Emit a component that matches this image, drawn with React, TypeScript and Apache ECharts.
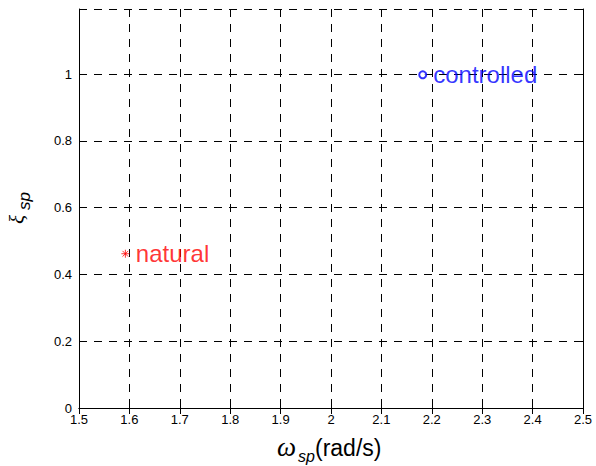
import React, { useEffect, useRef } from "react";
import * as echarts from "echarts";

const xTicks = [1.5, 1.6, 1.7, 1.8, 1.9, 2, 2.1, 2.2, 2.3, 2.4, 2.5];
const yTicks = [0, 0.2, 0.4, 0.6, 0.8, 1];
const naturalPoint = [1.592, 0.462];
const controlledPoint = [2.182, 0.998];
const pointNames = ["natural", "controlled"];

const asterisk =
  "path://M0,-5L0,5M-5,0L5,0M-3.6,-3.6L3.6,3.6M-3.6,3.6L3.6,-3.6";

const SANS = "Liberation Sans, Arial, sans-serif";
const SERIF = "Liberation Serif, Times New Roman, serif";

export default function App() {
  const ref = useRef<HTMLDivElement>(null);
  useEffect(() => {
    document.body.style.margin = "0";
    if (!ref.current) return;
    const chart = echarts.init(ref.current, undefined, { renderer: "svg" });
    const axisFont = { fontFamily: SANS, fontSize: 13, color: "#000" };
    const dashed = { show: true, lineStyle: { color: "#000", type: [8, 7], width: 1 } };
    const xFmt = (v: number) => {
      const t = xTicks.find((x) => Math.abs(x - v) < 1e-6);
      return t === undefined ? "" : String(t);
    };
    const yFmt = (v: number) => {
      const t = yTicks.find((y) => Math.abs(y - v) < 1e-6);
      return t === undefined ? "" : String(t);
    };
    const tick = { show: true, inside: true, length: 6, lineStyle: { color: "#000" } };
    const line = { show: true, lineStyle: { color: "#000", width: 1 } };
    chart.setOption({
      animation: false,
      backgroundColor: "#fff",
      grid: {
        left: 79,
        top: 9,
        right: 13,
        bottom: 58,
        show: false,
      },
      xAxis: [
        {
          type: "value",
          min: xTicks[0],
          max: xTicks[xTicks.length - 1],
          interval: 0.1,
          axisLine: line,
          axisTick: tick,
          axisLabel: { ...axisFont, margin: 5, formatter: xFmt },
          splitLine: dashed,
        },
        {
          type: "value",
          position: "top",
          min: xTicks[0],
          max: xTicks[xTicks.length - 1],
          interval: 0.1,
          axisLine: line,
          axisTick: tick,
          axisLabel: { show: false },
          splitLine: { show: false },
        },
      ],
      yAxis: [
        {
          type: "value",
          min: 0,
          max: 1.195,
          interval: 0.2,
          axisLine: line,
          axisTick: tick,
          axisLabel: { ...axisFont, margin: 7, showMaxLabel: false, formatter: yFmt },
          splitLine: dashed,
        },
        {
          type: "value",
          position: "right",
          min: 0,
          max: 1.195,
          interval: 0.2,
          axisLine: line,
          axisTick: tick,
          axisLabel: { show: false },
          splitLine: { show: false },
        },
      ],
      series: [
        {
          type: "scatter",
          data: [naturalPoint],
          symbol: asterisk,
          symbolSize: 8,
          itemStyle: { color: "#ff0000", borderColor: "#ff0000", borderWidth: 1 },
          label: {
            show: true,
            position: "right",
            distance: 6,
            formatter: pointNames[0],
            color: "#ff0000",
            fontSize: 24,
            fontFamily: SANS,
          },
          z: 5,
        },
        {
          type: "scatter",
          data: [controlledPoint],
          symbol: "emptyCircle",
          symbolSize: 7,
          itemStyle: { color: "#0000ff", borderColor: "#0000ff", borderWidth: 1 },
          label: {
            show: true,
            position: "right",
            distance: 6,
            formatter: pointNames[1],
            color: "#0000ff",
            fontSize: 24,
            fontFamily: SANS,
          },
          z: 5,
        },
      ],
      graphic: [
        {
          type: "text",
          x: 277,
          y: 433,
          style: { text: "ω", fontStyle: "italic", fontSize: 27, fontFamily: SERIF, fill: "#000" },
        },
        {
          type: "text",
          x: 298,
          y: 448,
          style: { text: "sp", fontStyle: "italic", fontSize: 16, fontFamily: SANS, fill: "#000" },
        },
        {
          type: "text",
          x: 315,
          y: 436,
          style: { text: "(rad/s)", fontSize: 23, fontFamily: SANS, fill: "#000" },
        },
        {
          type: "group",
          x: 6,
          y: 224,
          rotation: Math.PI / 2,
          children: [
            {
              type: "text",
              x: 0,
              y: 0,
              style: { text: "ξ", fontStyle: "italic", fontSize: 21, fontFamily: SERIF, fill: "#000" },
            },
            {
              type: "text",
              x: 14,
              y: 10,
              style: { text: "sp", fontStyle: "italic", fontSize: 17, fontFamily: SANS, fill: "#000" },
            },
          ],
        },
      ],
    });
    return () => chart.dispose();
  }, []);
  return <div ref={ref} style={{ width: 596, height: 466 }} />;
}
